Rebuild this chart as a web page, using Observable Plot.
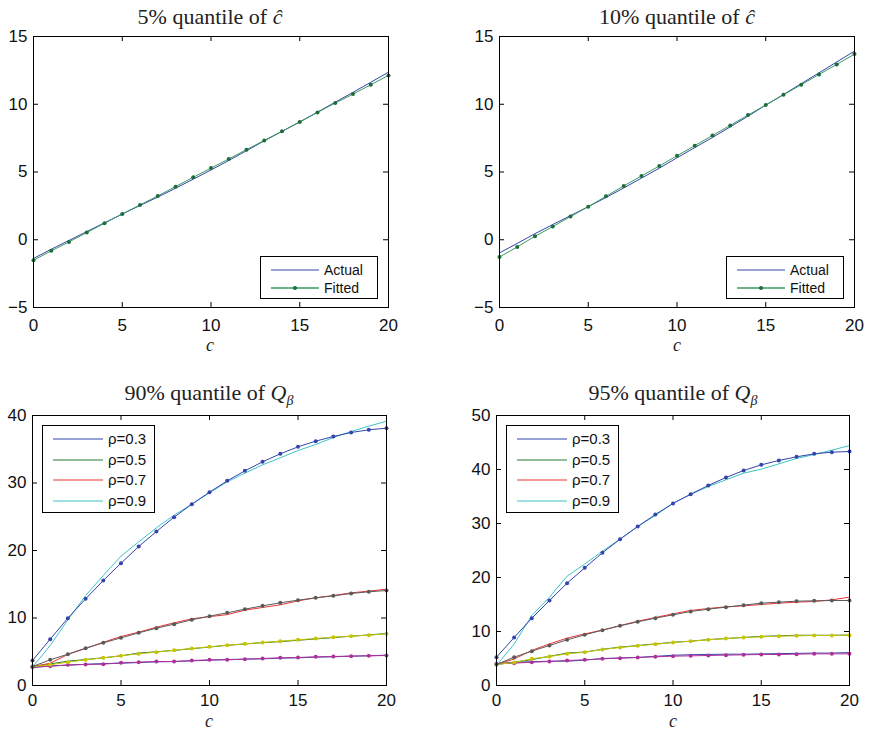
<!DOCTYPE html>
<html><head><meta charset="utf-8">
<script src="https://cdn.jsdelivr.net/npm/d3@7"></script>
<script src="https://cdn.jsdelivr.net/npm/@observablehq/plot@0.6"></script>
<style>
body{margin:0;background:#fff;}
#root{position:relative;width:871px;height:731px;overflow:hidden;font-family:"Liberation Sans",Arial,sans-serif;color:#000;}
.panel{position:absolute;}
.title{position:absolute;font-family:"Liberation Serif","DejaVu Serif",serif;font-size:22px;line-height:1;transform:translate(-50%,-50%);white-space:nowrap;color:#222;}
.xlab{position:absolute;font-family:"Liberation Serif","DejaVu Serif",serif;font-style:italic;font-size:18px;line-height:0.7;transform:translate(-50%,-50%);color:#222;}
.legend{position:absolute;border:1px solid #000;background:#fff;box-sizing:border-box;}
.legend svg{display:block;}
</style>
</head><body>
<div id="root"></div>
<script>
// ---------- data ----------
const cValues = [0,1,2,3,4,5,6,7,8,9,10,11,12,13,14,15,16,17,18,19,20];
const xTicks = [0,5,10,15,20];

// 5% quantile of c-hat
const q05Actual = [-1.38,-0.70,-0.05,0.60,1.25,1.90,2.53,3.15,3.80,4.47,5.15,5.85,6.57,7.30,8.00,8.70,9.42,10.15,10.88,11.62,12.37];
const q05Fitted = [-1.51,-0.82,-0.16,0.53,1.22,1.90,2.57,3.23,3.92,4.61,5.29,5.96,6.65,7.33,8.00,8.69,9.40,10.09,10.75,11.44,12.13];
// 10% quantile of c-hat
const q10Actual = [-0.97,-0.27,0.45,1.12,1.78,2.44,3.12,3.82,4.55,5.28,6.05,6.80,7.55,8.33,9.12,9.94,10.72,11.52,12.32,13.12,13.92];
const q10Fitted = [-1.27,-0.53,0.26,0.97,1.71,2.44,3.21,3.97,4.71,5.44,6.20,6.94,7.70,8.44,9.20,9.94,10.70,11.44,12.20,12.94,13.70];
const topYTicks = [-5,0,5,10,15];

// 90% quantile of Q_beta
const q90Actual03 = [2.65,2.90,3.00,3.15,3.25,3.30,3.40,3.50,3.55,3.65,3.75,3.85,3.90,3.95,4.05,4.10,4.20,4.25,4.35,4.40,4.50];
const q90Actual05 = [2.80,3.20,3.60,3.85,4.10,4.40,4.80,5.00,5.20,5.45,5.70,5.95,6.15,6.35,6.50,6.70,6.90,7.10,7.30,7.50,7.70];
const q90Actual07 = [2.80,3.30,4.60,5.50,6.40,7.26,7.90,8.64,9.28,9.88,10.20,10.50,11.16,11.56,11.95,12.54,12.99,13.33,13.73,13.98,14.27];
const q90Actual09 = [2.72,5.93,9.73,13.33,16.30,19.16,21.28,23.36,25.23,26.86,28.54,30.17,31.46,32.69,33.73,34.81,35.70,36.74,37.63,38.42,39.16];
const q90Fitted03 = [2.72,2.86,3.06,3.11,3.16,3.36,3.46,3.56,3.56,3.70,3.80,3.80,3.90,4.00,4.10,4.15,4.25,4.30,4.35,4.40,4.44];
const q90Fitted05 = [2.81,3.06,3.46,3.80,4.10,4.40,4.69,4.94,5.23,5.48,5.73,5.98,6.17,6.37,6.57,6.77,6.96,7.16,7.31,7.46,7.65];
const q90Fitted07 = [2.81,3.80,4.64,5.53,6.32,7.06,7.80,8.49,9.09,9.73,10.27,10.77,11.31,11.80,12.25,12.64,12.99,13.28,13.63,13.88,14.07];
const q90Fitted09 = [3.70,6.86,9.98,12.84,15.56,18.12,20.59,22.81,24.94,26.86,28.64,30.32,31.80,33.14,34.32,35.36,36.20,36.89,37.48,37.88,38.12];
const q90YTicks = [0,10,20,30,40];

// 95% quantile of Q_beta
const q95Actual03 = [4.00,4.30,4.40,4.50,4.50,4.70,5.00,5.10,5.20,5.40,5.60,5.70,5.75,5.80,5.80,5.85,5.90,5.95,6.00,6.00,6.10];
const q95Actual05 = [3.90,4.30,4.80,5.40,6.00,6.20,6.70,7.10,7.40,7.70,8.00,8.20,8.50,8.70,8.90,9.10,9.20,9.30,9.30,9.30,9.35];
const q95Actual07 = [3.90,4.90,6.50,7.70,8.77,9.57,10.25,11.10,11.90,12.60,13.27,13.90,14.26,14.57,14.75,15.00,15.25,15.43,15.56,15.86,16.36];
const q95Actual09 = [3.70,7.70,12.96,16.36,20.25,22.50,24.88,27.10,29.44,31.48,33.77,35.37,36.85,38.09,39.32,40.06,41.05,42.04,42.78,43.58,44.44];
const q95Fitted03 = [4.01,4.14,4.32,4.44,4.63,4.75,4.94,5.06,5.19,5.31,5.43,5.49,5.56,5.62,5.68,5.74,5.74,5.80,5.86,5.86,5.86];
const q95Fitted05 = [3.89,4.26,4.94,5.37,5.86,6.17,6.67,7.04,7.35,7.65,7.96,8.21,8.46,8.70,8.89,9.01,9.14,9.20,9.26,9.26,9.32];
const q95Fitted07 = [3.89,5.25,6.36,7.41,8.46,9.38,10.25,11.05,11.79,12.47,13.09,13.70,14.14,14.51,14.88,15.25,15.43,15.62,15.68,15.74,15.74];
const q95Fitted09 = [5.25,8.89,12.47,15.74,18.95,21.79,24.57,27.10,29.44,31.67,33.70,35.43,37.04,38.52,39.81,40.86,41.67,42.35,42.90,43.21,43.33];
const q95YTicks = [0,10,20,30,40,50];

const rhoLabels = ["ρ=0.3","ρ=0.5","ρ=0.7","ρ=0.9"];
const topLabels = ["Actual","Fitted"];

// ---------- styles ----------
const C = {b:"#3344aa", g:"#1c7a30", r:"#ee3333", c:"#3cc4c8", m:"#b0309a", y:"#c8c400", k:"#5a5a5a",
           actual:"#3344aa", fittedLine:"#3a9a60", fittedDot:"#1a6e38"};

const root = document.getElementById("root");
const fmt = d => d < 0 ? "\u2212" + (-d) : String(d);
const rows = arr => cValues.map((c, i) => ({c, v: arr[i]}));

function panel({left, top, width, height, ml, mr, mt, mb, yDomain, yTicks, series, xPad}) {
  const iw = width - ml - mr, ih = height - mt - mb;
  const marks = [];
  for (const s of series) {
    marks.push(Plot.line(rows(s.data), {x: "c", y: "v", stroke: s.line, strokeWidth: s.width || 1}));
    if (s.dot) marks.push(Plot.dot(rows(s.data), {x: "c", y: "v", r: 2, fill: s.dot, stroke: null}));
  }
  marks.push(
    Plot.tickX(xTicks, {x: d => d, insetTop: ih - 5, stroke: "#000"}),
    Plot.tickX(xTicks, {x: d => d, insetBottom: ih - 5, stroke: "#000"}),
    Plot.tickY(yTicks, {y: d => d, insetRight: iw - 5, stroke: "#000"}),
    Plot.tickY(yTicks, {y: d => d, insetLeft: iw - 5, stroke: "#000"}),
    Plot.axisX(xTicks, {tickSize: 0, tickPadding: xPad, fontSize: 17, label: null, tickFormat: fmt}),
    Plot.axisY(yTicks, {tickSize: 0, tickPadding: 6, fontSize: 17, label: null, tickFormat: fmt}),
    Plot.frame({stroke: "#000", strokeWidth: 1})
  );
  const svg = Plot.plot({
    width, height, marginLeft: ml, marginRight: mr, marginTop: mt, marginBottom: mb,
    x: {domain: [0, 20]}, y: {domain: yDomain},
    style: {fontFamily: "'Liberation Sans', Arial, sans-serif", color: "#111", background: "transparent"},
    marks
  });
  svg.classList.add("panel");
  svg.style.left = left + "px"; svg.style.top = top + "px";
  root.appendChild(svg);
}

function addText(cls, html, x, y) {
  const d = document.createElement("div");
  d.className = cls; d.innerHTML = html;
  d.style.left = x + "px"; d.style.top = y + "px";
  root.appendChild(d);
}

function legend(left, top, w, h, items, rowY, x0, x1, tx, fs) {
  const d = document.createElement("div");
  d.className = "legend";
  d.style.left = left + "px"; d.style.top = top + "px";
  d.style.width = w + "px"; d.style.height = h + "px";
  let s = `<svg width="${w-2}" height="${h-2}" style="font-family:'Liberation Sans',Arial,sans-serif;font-size:${fs}px">`;
  items.forEach((it, i) => {
    const y = rowY[i];
    s += `<line x1="${x0}" x2="${x1}" y1="${y}" y2="${y}" stroke="${it.color}" stroke-width="${it.width||1}"/>`;
    if (it.dot) s += `<circle cx="${(x0+x1)/2}" cy="${y}" r="2" fill="${it.dot}"/>`;
    s += `<text x="${tx}" y="${y}" dy="0.36em" fill="#111">${it.label}</text>`;
  });
  s += "</svg>";
  d.innerHTML = s;
  root.appendChild(d);
}

// Panel 1
panel({left: 0, top: 0, width: 430, height: 336, ml: 33, mr: 42, mt: 36, mb: 29, xPad: 11,
  yDomain: [-5, 15], yTicks: topYTicks,
  series: [{data: q05Actual, line: C.actual}, {data: q05Fitted, line: C.fittedLine, dot: C.fittedDot}]});
// Panel 2
panel({left: 440, top: 0, width: 431, height: 336, ml: 59, mr: 17, mt: 36, mb: 29, xPad: 11,
  yDomain: [-5, 15], yTicks: topYTicks,
  series: [{data: q10Actual, line: C.actual}, {data: q10Fitted, line: C.fittedLine, dot: C.fittedDot}]});
// Panel 3
const s90 = [
  {data: q90Actual03, line: C.b}, {data: q90Actual05, line: C.g}, {data: q90Actual07, line: C.r}, {data: q90Actual09, line: C.c},
  {data: q90Fitted03, line: C.m, dot: C.m}, {data: q90Fitted05, line: C.y, dot: C.y}, {data: q90Fitted07, line: C.k, dot: C.k}, {data: q90Fitted09, line: C.b, dot: C.b}
];
panel({left: 0, top: 380, width: 430, height: 331, ml: 32, mr: 44, mt: 35, mb: 26, xPad: 8,
  yDomain: [0, 40], yTicks: q90YTicks, series: s90});
// Panel 4
const s95 = [
  {data: q95Actual03, line: C.b}, {data: q95Actual05, line: C.g}, {data: q95Actual07, line: C.r}, {data: q95Actual09, line: C.c},
  {data: q95Fitted03, line: C.m, dot: C.m}, {data: q95Fitted05, line: C.y, dot: C.y}, {data: q95Fitted07, line: C.k, dot: C.k}, {data: q95Fitted09, line: C.b, dot: C.b}
];
panel({left: 440, top: 380, width: 431, height: 331, ml: 56, mr: 22, mt: 35, mb: 26, xPad: 8,
  yDomain: [0, 50], yTicks: q95YTicks, series: s95});

// Titles and axis labels
addText("title", "5% quantile of <i>ĉ</i>", 210, 17);
addText("title", "10% quantile of <i>ĉ</i>", 677, 17);
addText("title", "90% quantile of <i>Q</i><sub style='font-size:14px'><i>β</i></sub>", 209, 395);
addText("title", "95% quantile of <i>Q</i><sub style='font-size:14px'><i>β</i></sub>", 673, 395);
addText("xlab", "c", 210, 345);
addText("xlab", "c", 677, 345);
addText("xlab", "c", 209, 721);
addText("xlab", "c", 673, 721);

// Legends
const topItems = [{label: topLabels[0], color: C.actual}, {label: topLabels[1], color: C.fittedLine, dot: C.fittedDot, width: 1.5}];
legend(260, 256, 118, 43, topItems, [13, 31], 10, 58, 63, 14);
legend(726, 256, 118, 43, topItems, [13, 31], 10, 58, 63, 14);
const rhoColors = [C.b, C.g, C.r, C.c];
const rhoItems = rhoLabels.map((l, i) => ({label: l, color: rhoColors[i], width: 1.2}));
legend(42, 425, 113, 88, rhoItems, [13, 34, 54, 75], 10, 60, 65, 15);
legend(506, 425, 113, 88, rhoItems, [13, 34, 54, 75], 10, 60, 65, 15);
</script>
</body></html>
